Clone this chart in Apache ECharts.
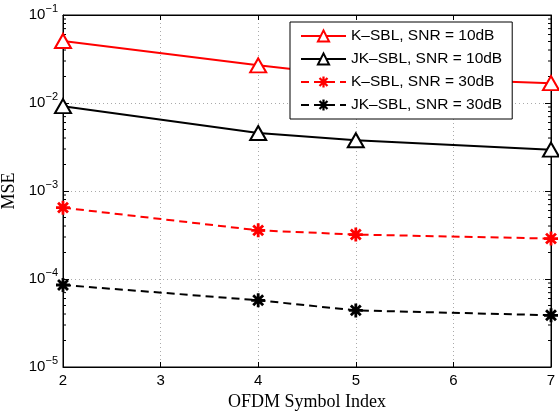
<!DOCTYPE html>
<html>
<head>
<meta charset="utf-8">
<script src="https://cdn.jsdelivr.net/npm/echarts@6/dist/echarts.min.js"></script>
<style>
  html, body { margin: 0; padding: 0; background: #fff; }
  #chart { width: 559px; height: 411px; }
</style>
</head>
<body>
<div id="chart"></div>
<script>
// symbol index on the x axis
const symbolIndex = [2, 4, 5, 7]
// MSE values
const kSbl10 = [0.0507, 0.0268, 0.0201, 0.0168]
const jkSbl10 = [0.0092, 0.00456, 0.00377, 0.00295]
const kSbl30 = [6.47e-4, 3.57e-4, 3.2e-4, 2.88e-4]
const jkSbl30 = [8.55e-5, 5.73e-5, 4.4e-5, 3.87e-5]
const seriesNames = ['K–SBL, SNR = 10dB', 'JK–SBL, SNR = 10dB', 'K–SBL, SNR = 30dB', 'JK–SBL, SNR = 30dB']
const yDecades = [-5, -4, -3, -2, -1]

// matlab style asterisk marker
const asterisk = 'path://M0 8L20 8L20 12L0 12Z M8 0L12 0L12 20L8 20Z ' +
  'M4.34 1.51L18.49 15.66L15.66 18.49L1.51 4.34Z M15.66 1.51L18.49 4.34L4.34 18.49L1.51 15.66Z'

const sansFont = 'Liberation Sans'
const serifFont = 'Liberation Serif'

function pairs(ys) {
  return symbolIndex.map((x, i) => [x, ys[i]])
}

// minor log ticks 2..9 in each decade
const minorTicks = []
yDecades.slice(0, -1).forEach(d => {
  for (let k = 2; k <= 9; k++) minorTicks.push([2, k * Math.pow(10, d)])
})

function expLabel(v) {
  const e = Math.round(Math.log10(v))
  return '{b|10}{s|' + (e < 0 ? '\u2212' + (-e) : e) + '}'
}

const chart = echarts.init(document.getElementById('chart'))

const lineSeries = (name, ys, color, dashed, symbol) => ({
  name: name,
  type: 'line',
  data: pairs(ys),
  symbol: symbol === 'tri' ? 'triangle' : asterisk,
  symbolSize: symbol === 'tri' ? [16, 14] : 14,
  showSymbol: true,
  lineStyle: { color: color, width: 2, type: dashed ? [8, 5] : 'solid' },
  itemStyle: symbol === 'tri'
    ? { color: '#fff', borderColor: color, borderWidth: 2 }
    : { color: color, borderWidth: 0 },
  z: 3
})

chart.setOption({
  animation: false,
  backgroundColor: '#fff',
  grid: {
    left: 63, right: 8, top: 15, bottom: 44,
    outerBoundsMode: 'none',
    containLabel: false,
    show: true, borderColor: '#000', borderWidth: 1, backgroundColor: '#fff'
  },
  legend: {
    data: seriesNames,
    orient: 'vertical',
    left: 290,
    top: 22,
    backgroundColor: '#fff',
    borderColor: '#000',
    borderWidth: 1,
    borderRadius: 0,
    padding: [6, 10, 6, 10],
    itemGap: 7,
    itemWidth: 45,
    itemHeight: 14,
    textStyle: { fontFamily: sansFont, fontSize: 15.5, color: '#000' }
  },
  xAxis: [{
    type: 'value',
    min: 2, max: 7, interval: 1,
    name: 'OFDM Symbol Index',
    nameLocation: 'middle',
    nameGap: 22,
    nameTextStyle: { fontFamily: serifFont, fontSize: 18, color: '#000' },
    axisLine: { show: true, lineStyle: { color: '#000', width: 1 } },
    axisTick: { show: true, inside: true, length: 5, lineStyle: { color: '#000' } },
    axisLabel: { fontFamily: sansFont, fontSize: 15, color: '#000', margin: 6 },
    splitLine: { show: true, lineStyle: { color: '#aaa', type: [1, 3], width: 1 } }
  }, {
    type: 'value',
    position: 'top',
    min: 2, max: 7, interval: 1,
    axisLine: { show: true, lineStyle: { color: '#000', width: 1 } },
    axisTick: { show: true, inside: true, length: 5, lineStyle: { color: '#000' } },
    axisLabel: { show: false },
    splitLine: { show: false }
  }],
  yAxis: [{
    type: 'log',
    logBase: 10,
    min: 1e-5, max: 1e-1,
    splitNumber: 4,
    name: 'MSE',
    nameLocation: 'middle',
    nameRotate: 90,
    nameGap: 40,
    nameTextStyle: { fontFamily: serifFont, fontSize: 18, color: '#000' },
    axisLine: { show: true, lineStyle: { color: '#000', width: 1 } },
    axisTick: { show: true, inside: true, length: 6, lineStyle: { color: '#000' } },
    axisLabel: {
      margin: 5,
      formatter: expLabel,
      rich: {
        b: { fontFamily: sansFont, fontSize: 15, color: '#000' },
        s: { fontFamily: sansFont, fontSize: 11, color: '#000', padding: [0, 0, 12, 0] }
      }
    },
    splitLine: { show: true, lineStyle: { color: '#aaa', type: [1, 3], width: 1 } }
  }, {
    type: 'log',
    logBase: 10,
    position: 'right',
    min: 1e-5, max: 1e-1,
    splitNumber: 4,
    axisLine: { show: true, lineStyle: { color: '#000', width: 1 } },
    axisTick: { show: true, inside: true, length: 6, lineStyle: { color: '#000' } },
    axisLabel: { show: false },
    splitLine: { show: false }
  }],
  series: [
    {
      type: 'custom',
      name: 'minor',
      data: minorTicks,
      silent: true,
      z: 1,
      renderItem(params, api) {
        const v = api.value(1)
        const l = api.coord([2, v])
        const r = api.coord([7, v])
        const st = { stroke: '#000', lineWidth: 1 }
        return {
          type: 'group',
          children: [
            { type: 'line', shape: { x1: l[0], y1: l[1], x2: l[0] + 3, y2: l[1] }, style: st },
            { type: 'line', shape: { x1: r[0], y1: r[1], x2: r[0] - 3, y2: r[1] }, style: st }
          ]
        }
      }
    },
    lineSeries(seriesNames[0], kSbl10, '#ff0000', false, 'tri'),
    lineSeries(seriesNames[1], jkSbl10, '#000000', false, 'tri'),
    lineSeries(seriesNames[2], kSbl30, '#ff0000', true, 'star'),
    lineSeries(seriesNames[3], jkSbl30, '#000000', true, 'star')
  ]
})
</script>
</body>
</html>
